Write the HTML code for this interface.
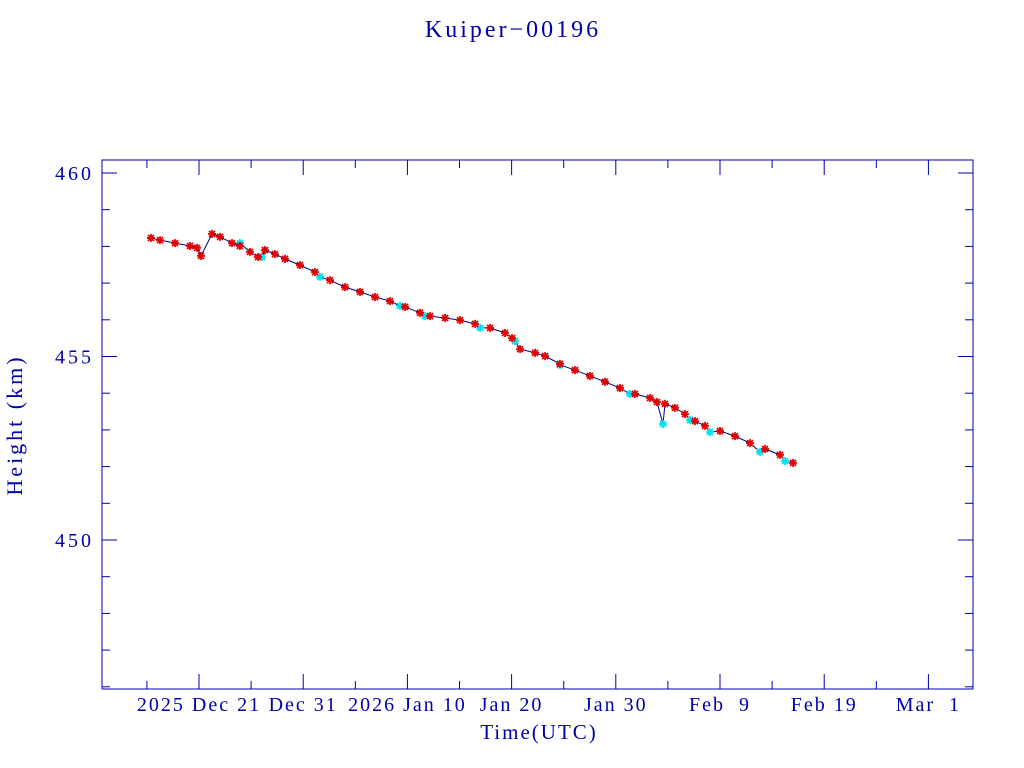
<!DOCTYPE html>
<html><head><meta charset="utf-8"><style>
html,body{margin:0;padding:0;background:#fff;width:1024px;height:768px;overflow:hidden}
svg text{font-family:"Liberation Serif",serif;fill:#0000a8}
</style></head><body>
<svg id="chart" width="1024" height="768" xmlns="http://www.w3.org/2000/svg">
<text x="513" y="37" font-size="24" letter-spacing="3" text-anchor="middle">Kuiper−00196</text>
<rect x="102" y="160" width="871" height="529" fill="none" stroke="#0000a8" stroke-width="1"/>
<g id="axes"></g>
<g id="series"></g>
<text x="539" y="739" font-size="21" letter-spacing="2" text-anchor="middle">Time(UTC)</text>
<text transform="translate(22,425) rotate(-90)" font-size="22" letter-spacing="3" text-anchor="middle">Height (km)</text>
</svg>
<script>
// days since 2025 Dec 21
const redDays=[-4.61,-3.74,-2.30,-0.86,-0.19,0.19,1.25,2.02,3.17,3.93,4.89,5.66,6.33,7.29,8.25,9.69,11.13,12.57,14.01,15.45,16.89,18.33,19.77,21.21,22.17,23.61,25.05,26.49,27.93,29.37,30.04,30.81,32.25,33.21,34.64,36.08,37.52,38.96,40.40,41.84,43.28,43.95,44.72,45.68,46.64,47.60,48.56,50.00,51.44,52.88,54.32,55.76,57.01];
const redHeights=[458.23,458.17,458.09,458.01,457.96,457.74,458.34,458.26,458.09,458.01,457.85,457.71,457.90,457.79,457.66,457.49,457.30,457.08,456.89,456.76,456.62,456.51,456.35,456.19,456.10,456.05,455.99,455.89,455.78,455.64,455.50,455.20,455.10,455.01,454.80,454.63,454.47,454.31,454.14,453.98,453.87,453.76,453.71,453.60,453.43,453.24,453.11,452.97,452.83,452.64,452.48,452.32,452.10];
const cyanDays=[3.93,6.05,11.61,19.29,21.69,26.97,30.33,34.64,41.36,44.53,47.12,49.04,53.84,56.24];
const cyanHeights=[458.09,457.71,457.17,456.38,456.10,455.78,455.42,454.77,453.98,453.16,453.27,452.94,452.40,452.15];
const xTickDays=[0,10,20,30,40,50,60,70];
const xTickLabels=["2025 Dec 21","Dec 31","2026 Jan 10","Jan 20","Jan 30","Feb  9","Feb 19","Mar  1"];
const yTicks=[450,455,460];

const X0=102,X1=973,Y0=160,Y1=689;
const dMin=-9.31,dMax=74.28,hMin=445.94,hMax=460.354;
const xs=d=>X0+(d-dMin)/(dMax-dMin)*(X1-X0);
const ys=h=>Y1-(h-hMin)/(hMax-hMin)*(Y1-Y0);
const NS="http://www.w3.org/2000/svg";
const axes=document.getElementById('axes'),ser=document.getElementById('series');
function mk(tag,attrs,parent){const e=document.createElementNS(NS,tag);for(const k in attrs)e.setAttribute(k,attrs[k]);parent.appendChild(e);return e;}
const C="#0000a8";
for(let d=-5;d<=75;d+=5){
  const x=xs(d); if(x<X0||x>X1)continue;
  const len=(d%10===0)?15:8;
  const t=mk('line',{x1:x,x2:x,y1:Y1,y2:Y1-len,stroke:C},axes);
  
  
  const t2=mk('line',{x1:x,x2:x,y1:Y0,y2:Y0+len,stroke:C},axes);
  
  
}
xTickDays.forEach((d,i)=>{
  const tx=mk('text',{x:xs(d),y:711,'font-size':20,'letter-spacing':2,'text-anchor':'middle',style:'white-space:pre'},axes);
  tx.textContent=xTickLabels[i];
  
  
});
for(let h=446;h<=460;h++){
  const y=ys(h);
  const len=(h%5===0)?15:8;
  const t=mk('line',{x1:X0,x2:X0+len,y1:y,y2:y,stroke:C},axes);
  
  
  const t2=mk('line',{x1:X1,x2:X1-len,y1:y,y2:y,stroke:C},axes);
  
  
}
yTicks.forEach(h=>{
  const tx=mk('text',{x:94,y:ys(h)+7,'font-size':20,'letter-spacing':3,'text-anchor':'end'},axes);
  tx.textContent=String(h);
  
  
});
const pts=[];
redDays.forEach((d,i)=>pts.push([d,redHeights[i]]));
cyanDays.forEach((d,i)=>pts.push([d,cyanHeights[i]]));
pts.sort((a,b)=>a[0]-b[0]);
const pl=mk('polyline',{points:pts.map(p=>xs(p[0])+','+ys(p[1])).join(' '),fill:'none',stroke:'#000080','stroke-width':1},ser);


function star(x,y,col,name){
  const g=mk('g',{stroke:col,'stroke-width':1.8},ser);
  
  
  const r=4;
  mk('line',{x1:x-r,x2:x+r,y1:y,y2:y},g);
  mk('line',{x1:x,x2:x,y1:y-r,y2:y+r},g);
  mk('line',{x1:x-3,x2:x+3,y1:y-3,y2:y+3},g);
  mk('line',{x1:x-3,x2:x+3,y1:y+3,y2:y-3},g);
}
cyanDays.forEach((d,i)=>star(xs(d),ys(cyanHeights[i]),'#00e0f0','cyan-point'));
redDays.forEach((d,i)=>star(xs(d),ys(redHeights[i]),'#e00000','red-point'));
</script>
</body></html>
